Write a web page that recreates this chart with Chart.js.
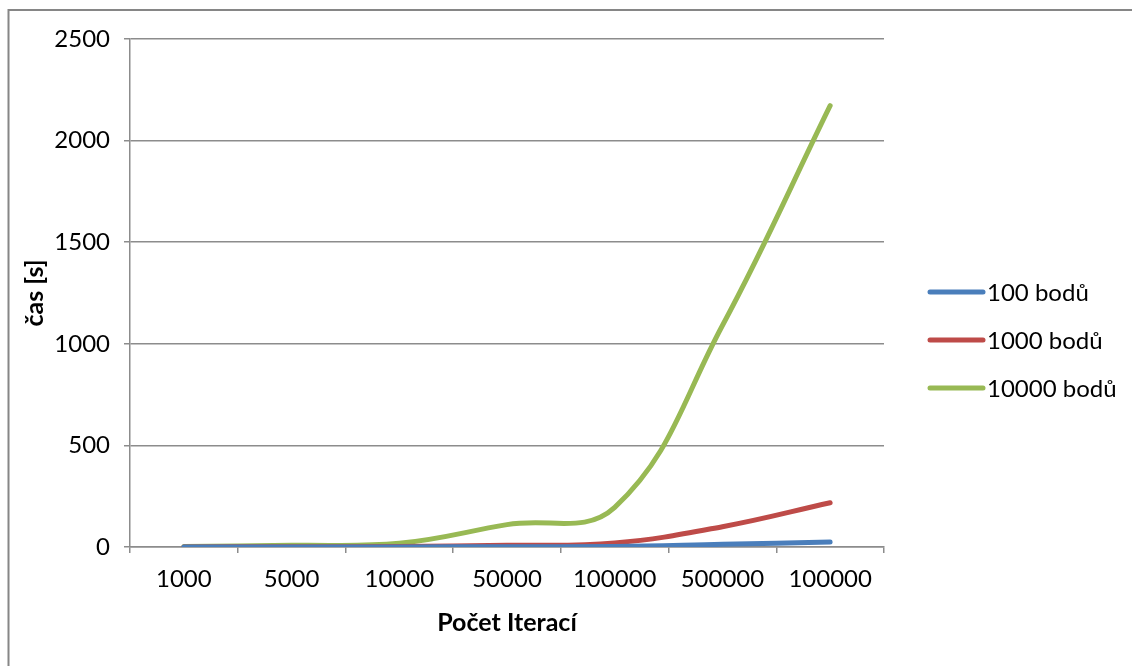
<!DOCTYPE html>
<html>
<head>
<meta charset="utf-8">
<script src="https://cdn.jsdelivr.net/npm/chart.js@4.4.0/dist/chart.umd.min.js"></script>
<style>
  html, body { margin: 0; padding: 0; background: #fff; }
</style>
</head>
<body>
<canvas id="timeChart" width="1132" height="666"></canvas>
<script>
  var iterations = ['1000', '5000', '10000', '50000', '100000', '500000', '100000'];
  var time100 = [0.2, 0.3, 0.5, 1, 2, 13, 24];
  var time1000 = [0.5, 1, 3, 8, 20, 100, 218];
  var time10000 = [2, 8, 18, 110, 195, 1090, 2172];
  var seriesNames = ['100 bodů', '1000 bodů', '10000 bodů'];
  var seriesColors = ['#4a7ebb', '#be4b48', '#98b954'];

  var fontFamily = 'Lato, "Open Sans", sans-serif';
  var gridColor = '#8c8c8c';

  // thin frame around the whole chart
  var frame = {
    id: 'frame',
    beforeDraw: function(chart) {
      var ctx = chart.ctx;
      ctx.save();
      ctx.strokeStyle = '#868686';
      ctx.lineWidth = 2;
      ctx.strokeRect(8.5, 10, 1300, 1000);
      ctx.restore();
    }
  };

  // legend on the right side, line sample + label
  var sideLegend = {
    id: 'sideLegend',
    afterDraw: function(chart) {
      var ctx = chart.ctx;
      chart.data.datasets.forEach(function(ds, i) {
        var y = 292 + i * 48;
        ctx.save();
        ctx.strokeStyle = ds.borderColor;
        ctx.lineWidth = 5;
        ctx.lineCap = 'round';
        ctx.beginPath();
        ctx.moveTo(930, y);
        ctx.lineTo(983, y);
        ctx.stroke();
        ctx.fillStyle = '#000';
        ctx.font = '24px ' + fontFamily;
        ctx.textBaseline = 'middle';
        ctx.fillText(ds.label, 987, y + 1);
        ctx.restore();
      });
    }
  };

  function makeSet(i, values) {
    return {
      label: seriesNames[i],
      data: values,
      borderColor: seriesColors[i],
      backgroundColor: seriesColors[i],
      borderWidth: 5,
      borderCapStyle: 'round',
      borderJoinStyle: 'round',
      pointRadius: 0,
      pointHoverRadius: 0,
      tension: 0.4,
      fill: false
    };
  }

  var ctx = document.getElementById('timeChart').getContext('2d');
  var timeChart = new Chart(ctx, {
    type: 'line',
    data: {
      labels: iterations,
      datasets: [makeSet(0, time100), makeSet(1, time1000), makeSet(2, time10000)]
    },
    options: {
      responsive: false,
      animation: false,
      devicePixelRatio: 1,
      layout: { padding: { left: 0, top: 39, right: 248, bottom: 0 } },
      plugins: {
        legend: { display: false },
        tooltip: { enabled: false }
      },
      scales: {
        x: {
          offset: true,
          grid: {
            offset: true,
            drawOnChartArea: false,
            color: gridColor,
            lineWidth: 1.5,
            tickLength: 6
          },
          border: { color: gridColor, width: 1.5 },
          ticks: {
            color: '#000',
            padding: 12,
            maxRotation: 0,
            font: { family: fontFamily, size: 24 }
          },
          title: {
            display: true,
            text: 'Počet Iterací',
            color: '#000',
            padding: { top: 0, bottom: 28 },
            font: { family: fontFamily, size: 25, weight: 'bold' }
          },
          afterFit: function(scale) { scale.height = 119; }
        },
        y: {
          min: 0,
          max: 2500,
          ticks: {
            stepSize: 500,
            color: '#000',
            padding: 14,
            font: { family: fontFamily, size: 24 },
            callback: function(value) { return String(value); }
          },
          grid: {
            color: gridColor,
            lineWidth: 1.5,
            tickLength: 6
          },
          border: { color: gridColor, width: 1.5 },
          title: {
            display: true,
            text: 'čas [s]',
            color: '#000',
            padding: { top: 20, bottom: 0 },
            font: { family: fontFamily, size: 25, weight: 'bold' }
          },
          afterFit: function(scale) { scale.width = 130; }
        }
      }
    },
    plugins: [frame, sideLegend]
  });
</script>
</body>
</html>
